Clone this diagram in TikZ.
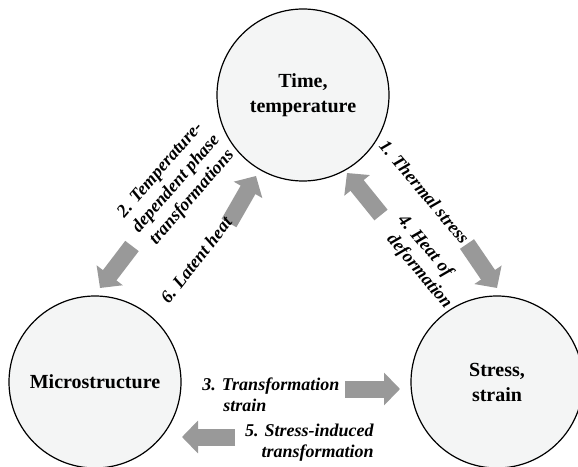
\documentclass[tikz,border=0pt]{standalone}
\usepackage{fontspec}
\setmainfont{Liberation Serif}
\usepackage{tikz}
\usetikzlibrary{arrows.meta}
\definecolor{circfill}{RGB}{244,245,245}
\definecolor{flowgray}{RGB}{153,153,153}
\tikzset{state/.style={circle,draw,line width=0.6pt,fill=circfill,minimum size=86pt,inner sep=0pt,align=center,font=\bfseries\fontsize{10}{12.5}\selectfont},
  flow/.style={->,draw=flowgray,line width=8.5pt},
  note/.style={inner sep=0pt,font=\bfseries\itshape\fontsize{9}{10.5}\selectfont}}

\begin{document}
\begin{tikzpicture}[>={Triangle[length=8pt,width=16pt]}, x=0.5pt, y=0.5pt]
    \useasboundingbox (0,0) rectangle (578,466);
    \clip (0,0) rectangle (578,466);

    \node[state](temp) at (303,371) {Time,\\temperature};
    \node[state](micro) at (95,84) {Microstructure};
    \node[state](stress) at (497,84) {Stress,\\strain};

    \coordinate (a-1-s) at (467,222);
    \coordinate (a-1-e) at (497,178);
    \coordinate (a-4-s) at (381,251);
    \coordinate (a-4-e) at (347,293);
    \coordinate (a-2-s) at (132,220);
    \coordinate (a-2-e) at (100,178);
    \coordinate (a-6-s) at (229,243);
    \coordinate (a-6-e) at (256,290);
    \coordinate (a-3-s) at (345,77);
    \coordinate (a-3-e) at (400,77);
    \coordinate (a-5-s) at (235,29);
    \coordinate (a-5-e) at (182,29);

    \draw[flow] (a-1-s) -- (a-1-e);
    \draw[flow] (a-4-s) -- (a-4-e);

    \draw[flow] (a-2-s) -- (a-2-e);
    \draw[flow] (a-6-s) -- (a-6-e);

    \draw[flow] (a-3-s) -- (a-3-e);
    \draw[flow] (a-5-s) -- (a-5-e);

    \node[note, rotate=-50](n-1) at (424.5,274) {1. Thermal stress};
    \node[note, rotate=-50, align=left](n-4) at (424.6,204) {4. Heat of\\\hspace*{4pt}deformation};
    \node[note, rotate=49, align=center](n-2) at (176.5,282) {2. Temperature-\\dependent phase\\transformations};
    \node[note, rotate=52](n-6) at (196,206) {6. Latent heat};
    \node[note, anchor=west, align=left](n-3) at (202,71) {3. Transformation\\\hspace*{10.5pt}strain};
    \node[note, anchor=east, align=right](n-5) at (374,23.5) {5. Stress-induced\\transformation};
\end{tikzpicture}
\end{document}
